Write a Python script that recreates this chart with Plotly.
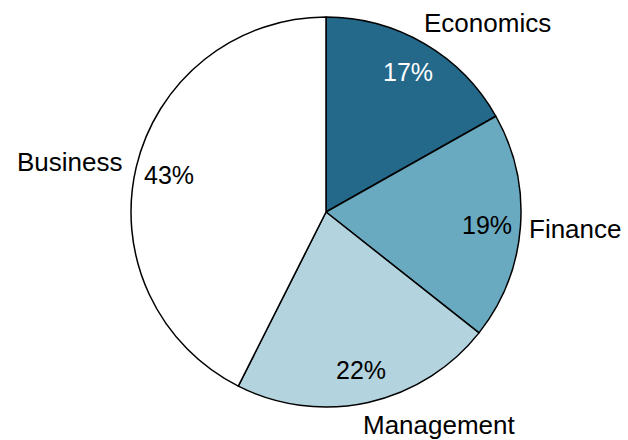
import math
import plotly.graph_objects as go

# Share of majors by field
categories = ["Economics", "Finance", "Management", "Business"]
shares = [17, 19, 22, 43]
colors = ["#24688a", "#6aaac0", "#b3d3de", "#ffffff"]
pct_colors = ["white", "black", "black", "black"]

W, H = 628, 440
cx, cy, R = 326, 212, 195  # pie centre and radius in pixels

dom_x = [(cx - R) / W, (cx + R) / W]
dom_y = [(H - cy - R) / H, (H - cy + R) / H]

fig = go.Figure(
    go.Pie(
        labels=categories,
        values=shares,
        sort=False,
        direction="clockwise",
        rotation=0,
        textinfo="none",
        hoverinfo="label+value",
        marker=dict(colors=colors, line=dict(color="black", width=1.5)),
        domain=dict(x=dom_x, y=dom_y),
        showlegend=False,
    )
)

font = "Liberation Sans, Arial, sans-serif"
total = sum(shares)
cum = 0
annotations = []
for name, val, pc in zip(categories, shares, pct_colors):
    mid = (cum + val / 2) / total * 2 * math.pi
    cum += val
    s, c = math.sin(mid), math.cos(mid)
    # percentage inside the slice, near the rim
    px = cx + 0.83 * R * s
    py = cy - 0.83 * R * c
    annotations.append(dict(
        x=px / W, y=1 - py / H, xref="paper", yref="paper",
        text=f"{val}%", showarrow=False,
        font=dict(family=font, size=25, color=pc),
        xanchor="center", yanchor="middle",
    ))
    # category name just outside the rim
    lx = cx + 1.09 * R * s
    ly = cy - 1.12 * R * c
    annotations.append(dict(
        x=lx / W, y=1 - ly / H, xref="paper", yref="paper",
        text=name, showarrow=False,
        font=dict(family=font, size=26, color="black"),
        xanchor="left" if s > 0 else "right", yanchor="middle",
        xshift=-11 if s > 0 else 6,
    ))

fig.update_layout(
    width=W, height=H,
    margin=dict(l=0, r=0, t=0, b=0),
    paper_bgcolor="white",
    plot_bgcolor="white",
    annotations=annotations,
)

fig.write_html("out.html")
